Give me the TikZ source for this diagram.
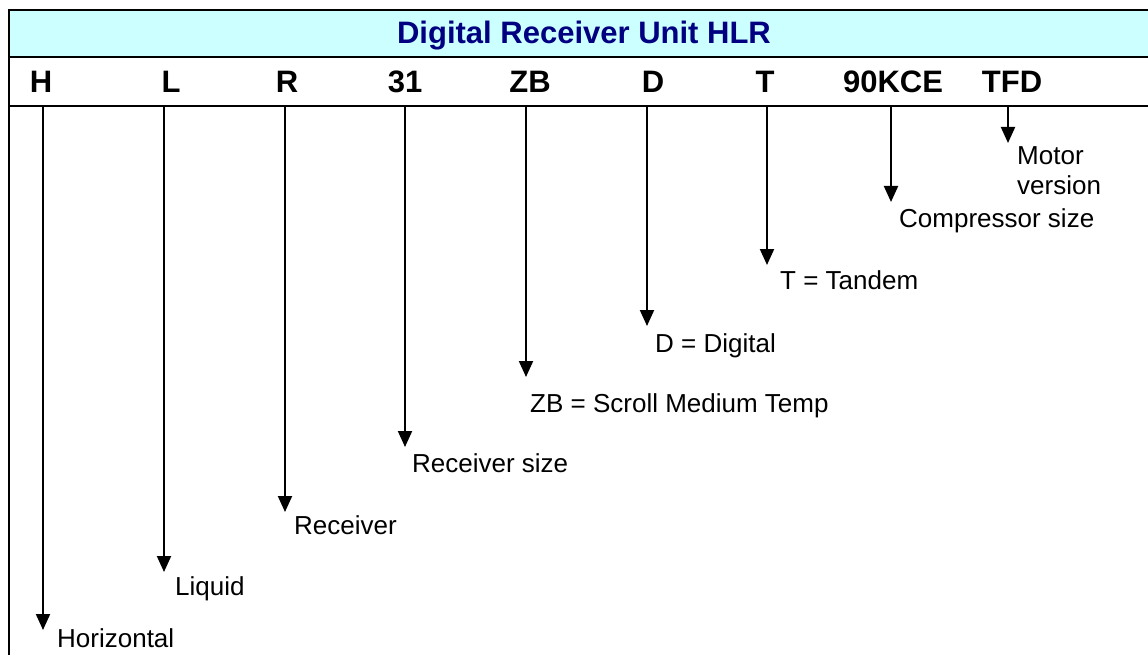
\documentclass[tikz,border=0pt]{standalone}
\usepackage{fontspec}
\setmainfont{Liberation Sans}
\usetikzlibrary{arrows.meta}
\definecolor{titlebg}{HTML}{CCFFFF}
\definecolor{titlefg}{HTML}{000080}
\begin{document}
\begin{tikzpicture}[x=1pt,y=-1pt,
  frame/.style={line width=2.8pt},
  hdr/.style={font=\bfseries\fontsize{31}{36}\selectfont, inner sep=0pt, anchor=base},
  lbl/.style={font=\fontsize{26}{30}\selectfont, inner sep=0pt, anchor=base west},
  arr/.style={line width=2pt, -{Triangle[width=14pt,length=16pt]}}]
\useasboundingbox (0,0) rectangle (1148,655);
\clip (0,0) rectangle (1148,655);
\fill[white] (0,0) rectangle (1148,655);
\fill[titlebg] (9,10) rectangle (1160,57);
\draw[frame] (9,680) -- (9,10) -- (1160,10);
\draw[frame] (9,57) -- (1160,57);
\draw[frame] (9,106) -- (1160,106);
\coordinate (hline) at (0,106);
\node[hdr, text=titlefg] (title) at (584,44) {Digital Receiver Unit HLR};
% header codes
\node[hdr] (hH)   at (41,93)   {H};
\node[hdr] (hL)   at (171,93)  {L};
\node[hdr] (hR)   at (287,93)  {R};
\node[hdr] (h31)  at (405,93)  {31};
\node[hdr] (hZB)  at (530,93)  {ZB};
\node[hdr] (hD)   at (653,93)  {D};
\node[hdr] (hT)   at (765,93)  {T};
\node[hdr] (h90)  at (893,93)  {90KCE};
\node[hdr] (hTFD) at (1012,93) {TFD};
% arrow tips
\coordinate (tH)   at (43,630);
\coordinate (tL)   at (164,572);
\coordinate (tR)   at (285,512);
\coordinate (t31)  at (405,447);
\coordinate (tZB)  at (526,377);
\coordinate (tD)   at (647,326);
\coordinate (tT)   at (767,265);
\coordinate (t90)  at (891,202);
\coordinate (tTFD) at (1008,143);
\foreach \t in {tH,tL,tR,t31,tZB,tD,tT,t90,tTFD}
  \draw[arr] (\t |- hline) -- (\t);
% labels
\node[lbl] (lH)   at (57,647)  {Horizontal};
\node[lbl] (lL)   at (175,595) {Liquid};
\node[lbl] (lR)   at (294,534) {Receiver};
\node[lbl] (l31)  at (412,472) {Receiver size};
\node[lbl] (lZB)  at (530,412) {ZB = Scroll Medium Temp};
\node[lbl] (lD)   at (655,352) {D = Digital};
\node[lbl] (lT)   at (780,289) {T = Tandem};
\node[lbl] (l90)  at (899,227) {Compressor size};
\node[lbl, align=left, anchor=north west] (lTFD) at (1017,146) {Motor\\version};
\end{tikzpicture}
\end{document}
